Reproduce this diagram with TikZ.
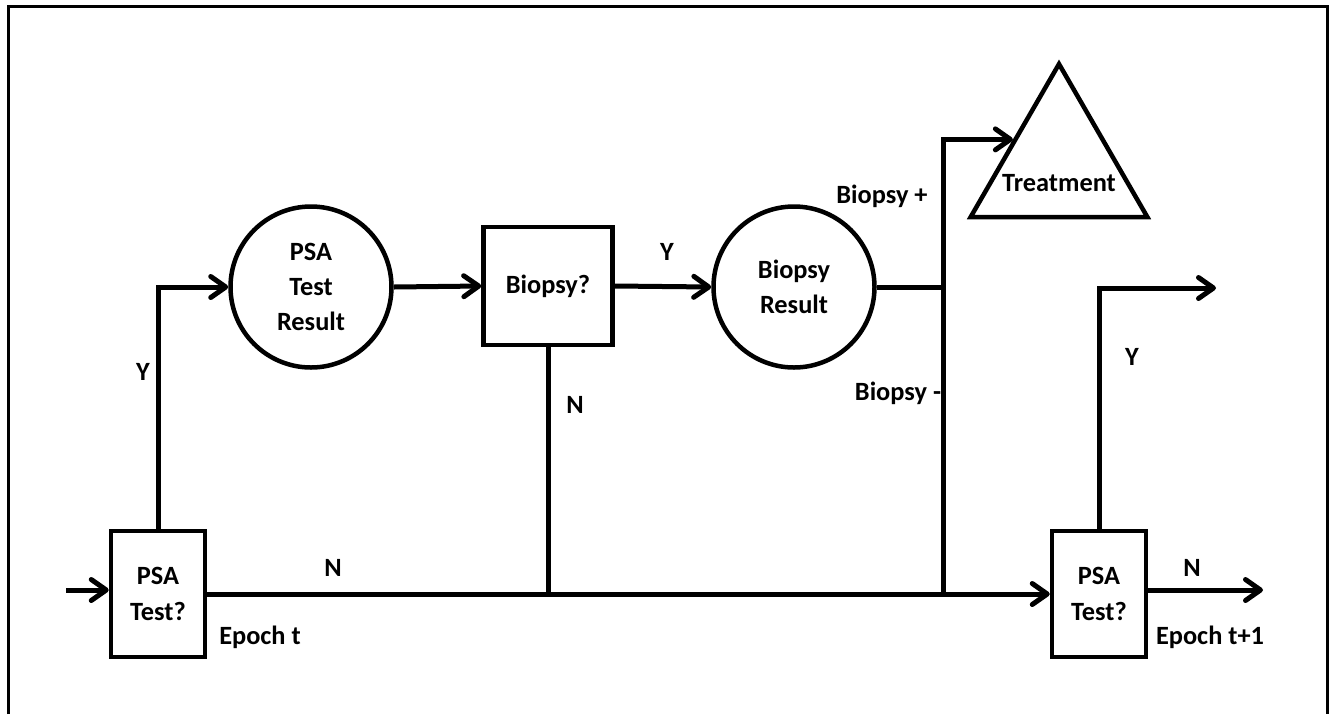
\documentclass[tikz,border=0pt]{standalone}
\usepackage{fontspec}
\setmainfont{Carlito}
\usetikzlibrary{arrows.meta,shapes.geometric}

\begin{document}
\begin{tikzpicture}[
    font=\fontsize{15}{20}\selectfont\bfseries,
    choice/.style={draw, line width=0.09cm, rectangle, align=center, inner sep=0pt},
    chance/.style={draw, line width=0.09cm, circle, align=center, inner sep=0pt, minimum size=3.22cm},
    flow/.style={line width=0.1cm},
    arr/.style={flow, -{Straight Barb[length=0.3cm, width=0.42cm, round]}},
    lbl/.style={inner sep=0pt}
  ]

% canvas and frame
\useasboundingbox (0,0) rectangle (26.58,-14.28);
\draw[line width=0.06cm] (0.16,-14.28) -- (0.16,-0.12) -- (26.54,-0.12) -- (26.54,-14.28);

% decision and chance nodes
\node[choice, minimum width=1.88cm, minimum height=2.52cm] (psa1) at (3.16,-11.88) {PSA\\Test?};
\node[chance] (res1) at (6.22,-5.74) {PSA\\Test\\Result};
\node[choice, minimum width=2.58cm, minimum height=2.36cm] (biopsy) at (10.96,-5.72) {Biopsy?};
\node[chance] (res2) at (15.88,-5.74) {Biopsy\\Result};
\node[draw, line width=0.09cm, regular polygon, regular polygon sides=3,
      minimum size=4.08cm, inner sep=0pt] (treat) at (21.18,-3.32) {};
\node[lbl] at ([yshift=-0.34cm]treat.center) {Treatment};
\node[choice, minimum width=1.88cm, minimum height=2.52cm] (psa2) at (21.98,-11.88) {PSA\\Test?};

% free ends and junction
\coordinate (in) at (1.32,-11.8);
\coordinate (split) at (18.86,-5.74);
\coordinate (outY) at (24.32,-5.76);
\coordinate (outN) at (25.26,-11.8);

% connectors
\draw[arr] (in) -- (in -| psa1.west);
\draw[arr] (psa1.north) -- (psa1.north |- res1.west) -- (res1.west);
\draw[arr] (res1.east) -- (biopsy.west);
\draw[arr] (biopsy.east) -- (res2.west);
\draw[arr] (psa1.east) -- (psa2.west);
\draw[flow] (biopsy.south) -- (biopsy.south |- psa1.east);
\draw[flow] (res2.east) -- (split);
\draw[arr] (split |- psa1.east) -- (split |- treat.side 1) -- (treat.side 1);
\draw[arr] (psa2.north) -- (psa2.north |- outY) -- (outY);
\draw[arr] (outN -| psa2.east) -- (outN);

% labels
\node[lbl] at (2.86,-7.44) {Y};
\node[lbl] at (6.66,-11.36) {N};
\node[lbl] at (5.2,-12.74) {Epoch t};
\node[lbl] at (11.5,-8.1) {N};
\node[lbl] at (13.34,-5.04) {Y};
\node[lbl] at (17.64,-3.92) {Biopsy +};
\node[lbl] at (17.96,-7.86) {Biopsy -};
\node[lbl] at (22.64,-7.14) {Y};
\node[lbl] at (23.84,-11.36) {N};
\node[lbl] at (24.2,-12.74) {Epoch t+1};

\end{tikzpicture}
\end{document}
